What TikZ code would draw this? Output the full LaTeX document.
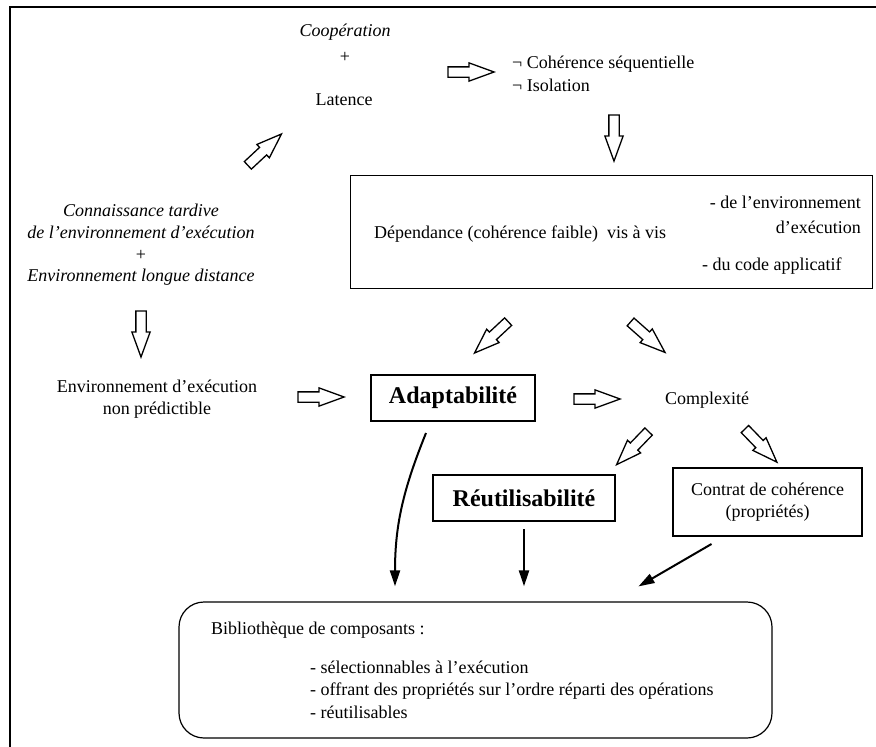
\documentclass[tikz,border=0pt]{standalone}
\usepackage{fontspec}
\setmainfont{Liberation Serif}
\usetikzlibrary{shapes.arrows,arrows.meta}
\begin{document}
\begin{tikzpicture}[x=1pt,y=-1pt,
  every node/.style={font=\fontsize{18}{22}\selectfont, inner sep=0pt},
  hollow/.style={single arrow, draw, line width=1.3pt, fill=white,
    inner sep=4.5pt, single arrow head extend=4pt,
    single arrow tip angle=40, minimum height=46pt},
  thinbox/.style={draw, line width=1pt},
  keybox/.style={draw, line width=2pt,
    font=\fontsize{24}{28}\selectfont\bfseries},
  link/.style={line width=2pt, -{Triangle[length=16pt,width=10pt]}}]

\useasboundingbox (0,0) rectangle (876,747);

% open frame: top and left edges only
\draw[line width=2pt] (876,7) -- (10,7) -- (10,747);

% upper chain
\node (coop) at (345,32) {\itshape Coopération};
\node (plusA) at (345,57) {+};
\node (lat) at (344,100) {Latence};
\node[anchor=west, align=left, font=\fontsize{18}{23}\selectfont] (neg) at (512,74)
  {¬ Cohérence séquentielle\\¬ Isolation};

% left column
\node[align=center, font=\fontsize{18}{21.7}\selectfont\itshape] (conn) at (141,245)
  {Connaissance tardive\\de l’environnement d’exécution\\\upshape +\\Environnement longue distance};
\node[align=center] (env) at (157,399) {Environnement d’exécution\\non prédictible};

% dependence box
\node[thinbox, minimum width=522pt, minimum height=113pt] (dep) at (611,231.5) {};
\node[anchor=west] (depT) at (374,234) {Dépendance (cohérence faible)\ \ vis à vis};
\node[anchor=east] (depA) at (861,202) {- de l’environnement};
\node[anchor=east] (depB) at (861,227) {d’exécution};
\node[anchor=west] (depC) at (702,266) {- du code applicatif};

% central row
\node[keybox, minimum width=164pt, minimum height=46pt] (adapt) at (453,398) {Adaptabilité};
\node (cplx) at (707,400) {Complexité};

% second row
\node[keybox, minimum width=182pt, minimum height=46pt] (reut) at (524,498) {Réutilisabilité};
\node[draw, line width=2pt, align=center, minimum width=189pt, minimum height=68pt] (contrat)
  at (767.5,502) {Contrat de cohérence\\(propriétés)};

% component library
\node[draw, line width=1.2pt, rounded corners=25pt, minimum width=593pt, minimum height=136pt]
  (lib) at (475.5,670) {};
\node[anchor=west] (libT) at (211,630) {Bibliothèque de composants :};
\node[anchor=west, align=left, font=\fontsize{18}{22.5}\selectfont] (libL) at (310,689.5)
  {- sélectionnables à l’exécution\\- offrant des propriétés sur l’ordre réparti des opérations\\- réutilisables};

% hollow block arrows
\node[hollow] (h1) at (464,72) {};
\node[hollow, rotate=-90] (h2) at (614,131) {};
\node[hollow, rotate=43] (h3) at (259.5,154.5) {};
\node[hollow, rotate=-90] (h4) at (141,327) {};
\node[hollow] (h5) at (314,397) {};
\node[hollow, rotate=-137] (h6) at (496.5,332.5) {};
\node[hollow, rotate=-41.5] (h7) at (642.5,332.5) {};
\node[hollow] (h8) at (590,399) {};
\node[hollow, rotate=-134] (h9) at (637.5,443) {};
\node[hollow, rotate=-46] (h10) at (756,440.5) {};

% solid connectors into the library
\draw[link] ([xshift=-27pt,yshift=-11pt]adapt.south) to[out=-112,in=90]
  ([xshift=-80.5pt,yshift=15pt]lib.north);
\draw[link, shorten <=7pt, shorten >=15pt] (reut.south) -- (reut.south |- lib.north);
\draw[link] ([xshift=-56pt,yshift=-7pt]contrat.south) -- ([xshift=163pt,yshift=15pt]lib.north);

\end{tikzpicture}
\end{document}
